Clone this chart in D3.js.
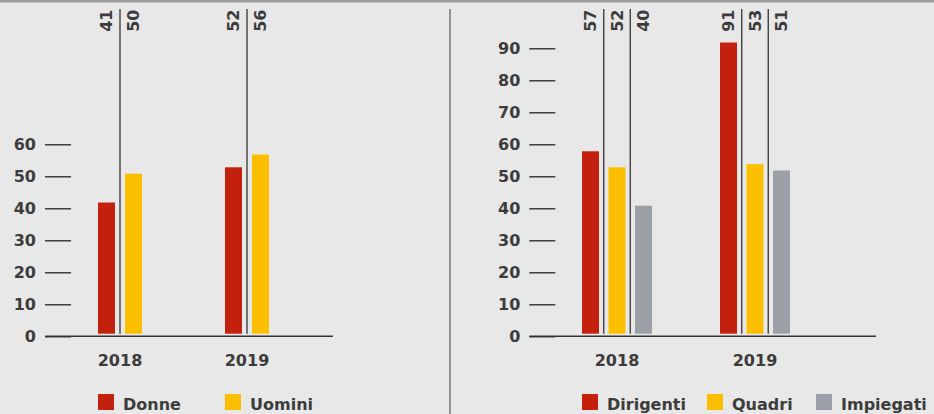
<!DOCTYPE html>
<html><head><meta charset="utf-8">
<script src="https://cdn.jsdelivr.net/npm/d3@7"></script>
<style>
html,body{margin:0;padding:0;background:#e8e8e8;}
svg{display:block;}
text{font-family:"DejaVu Sans",sans-serif;font-weight:bold;font-size:16px;fill:#3c3c3c;}
</style></head>
<body><svg id="c" width="934" height="414"></svg>
<script>
const years = ["2018", "2019"];
const genderSeries = ["Donne", "Uomini"];
const donne = [41, 52];
const uomini = [50, 56];
const roleSeries = ["Dirigenti", "Quadri", "Impiegati"];
const dirigenti = [57, 91];
const quadri = [52, 53];
const impiegati = [40, 51];
const leftTicks = [0, 10, 20, 30, 40, 50, 60];
const rightTicks = [0, 10, 20, 30, 40, 50, 60, 70, 80, 90];

const colors = {Donne:"#c3200e", Uomini:"#fbbf00", Dirigenti:"#c3200e", Quadri:"#fbbf00", Impiegati:"#9ba0a7"};

const svg = d3.select("#c");
svg.append("rect").attr("x",0).attr("y",0).attr("width",934).attr("height",414).attr("fill","#e8e8e8");
svg.append("rect").attr("x",0).attr("y",0).attr("width",934).attr("height",2.5).attr("fill","#9b9b9b");
svg.append("line").attr("x1",450).attr("x2",450).attr("y1",9).attr("y2",414).attr("stroke","#777").attr("stroke-width",1.5);

const y = d3.scaleLinear().domain([0, 100]).range([333.7, 13.7]);
const tickOff = 2.6;

function panel(cfg) {
  const g = svg.append("g");
  const series = cfg.series;
  const data = years.map((yr, i) => ({year: yr, vals: series.map((s, j) => ({key: s, v: cfg.values[j][i]}))}));
  const x0 = d3.scalePoint().domain(years).range(cfg.groupRange);
  const x1 = d3.scaleBand().domain(series).range([0, cfg.innerWidth]).paddingInner(cfg.pad);
  const bw = x1.bandwidth();
  const gap = x1.step() - bw;

  // axis
  const axis = d3.axisLeft(y).tickValues(cfg.ticks).tickSize(26).tickPadding(9).tickFormat(d3.format("d"));
  const ag = g.append("g").attr("transform", `translate(${cfg.axisX},${tickOff})`).call(axis);
  ag.select(".domain").remove();
  ag.selectAll(".tick line").attr("stroke", "#222").attr("stroke-width", 1.3);
  ag.selectAll(".tick text").attr("fill", "#3c3c3c").style("font-family", "'DejaVu Sans',sans-serif").style("font-size","16px").style("font-weight","bold");

  // baseline
  g.append("line").attr("x1", cfg.axisX - 26).attr("x2", cfg.baseEnd)
    .attr("y1", y(0) + tickOff).attr("y2", y(0) + tickOff).attr("stroke", "#333").attr("stroke-width", 1.5);

  const grp = g.selectAll(".grp").data(data).join("g").attr("transform", d => `translate(${x0(d.year)},0)`);
  grp.selectAll("rect").data(d => d.vals).join("rect")
    .attr("x", d => x1(d.key)).attr("width", bw)
    .attr("y", d => y(d.v)).attr("height", d => y(0) - y(d.v))
    .attr("fill", d => colors[d.key]);
  // dividers
  grp.selectAll("line.div").data(series.slice(0, -1)).join("line").attr("class", "div")
    .attr("x1", s => x1(s) + bw + gap / 2).attr("x2", s => x1(s) + bw + gap / 2)
    .attr("y1", 9).attr("y2", y(0)).attr("stroke", "#333").attr("stroke-width", 1.3);
  // value labels
  grp.selectAll("text.val").data(d => d.vals).join("text").attr("class", "val")
    .attr("transform", d => `translate(${x1(d.key) + bw / 2},9.5) rotate(-90)`)
    .attr("text-anchor", "end").attr("dy", "0.36em").text(d => d.v);
  // year labels
  grp.append("text").attr("x", cfg.innerWidth / 2).attr("y", 365.5).attr("text-anchor", "middle").text(d => d.year);

  // legend
  const lg = g.selectAll(".lg").data(series).join("g").attr("transform", (s, i) => `translate(${cfg.legendX[i]},394)`);
  lg.append("rect").attr("width", 16).attr("height", 16).attr("fill", s => colors[s]);
  lg.append("text").attr("x", cfg.legendTextOff[0]).attr("y", 15.5).text(s => s);
}

panel({series: genderSeries, values: [donne, uomini], ticks: leftTicks,
  groupRange: [98, 225], innerWidth: 44, pad: 10 / 27, axisX: 71, baseEnd: 333,
  legendX: [98, 225], legendTextOff: [25]});
panel({series: roleSeries, values: [dirigenti, quadri, impiegati], ticks: rightTicks,
  groupRange: [582, 720], innerWidth: 70, pad: 9.5 / 26.5, axisX: 555.3, baseEnd: 876,
  legendX: [582, 707, 816], legendTextOff: [25]});
</script></body></html>
